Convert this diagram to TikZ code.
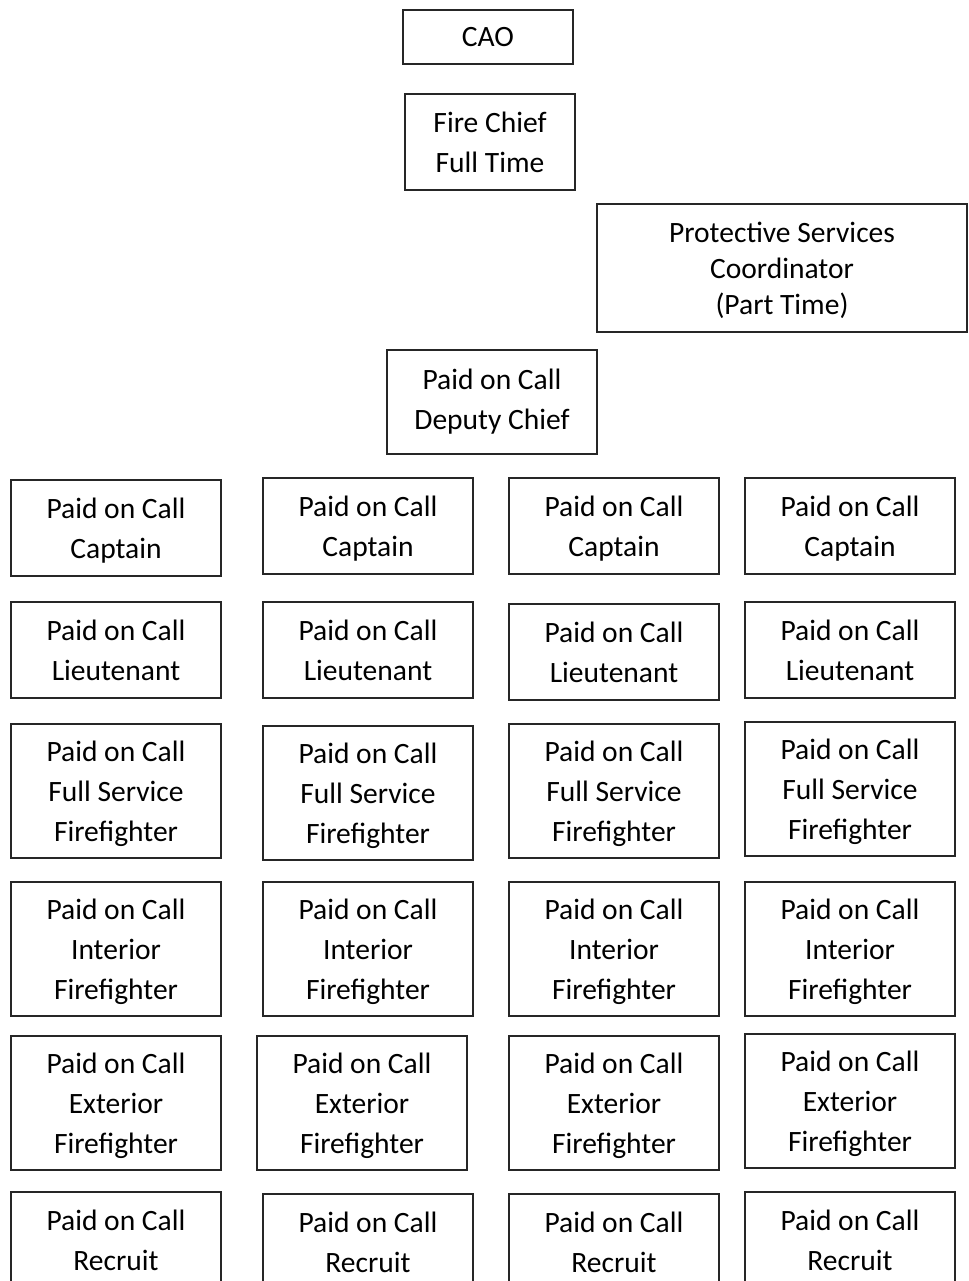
\documentclass[tikz,border=0pt]{standalone}
\usepackage{fontspec}
\setmainfont{Carlito}
\usetikzlibrary{%
  positioning% wg. " of "
}

\begin{document}
\begin{tikzpicture}[
    x=0.02cm,y=-0.02cm,
    line join=miter,
    font=\fontsize{16.8}{22.7}\selectfont,
    rolebox/.style={rectangle,draw=black!85,line width=1.1pt,inner sep=0pt,
        align=center,text depth=0pt,minimum width=4.2cm,minimum height=1.92cm},
    tallbox/.style={rolebox,minimum height=2.68cm}
  ]
    \clip (0,0) rectangle (968,1281);
    \fill[white] (0,0) rectangle (968,1281);

    \node (cao)    [rolebox,minimum width=3.4cm,minimum height=1.08cm] at (488,37) {CAO};
    \node (chief)  [rolebox,minimum width=3.4cm] at (490,142) {Fire Chief\\Full Time};
    \node (psc)    [rolebox,minimum width=7.4cm,minimum height=2.56cm,
        font=\fontsize{16.8}{20.4}\selectfont] at (782,268)
        {Protective Services\\Coordinator\\(Part Time)};
    \node (deputy) [rolebox,text depth=3pt,minimum height=2.08cm] at (492,402) {Paid on Call\\Deputy Chief};

    % captains
    \node (cap1) [rolebox] at (116,528) {Paid on Call\\Captain};
    \node (cap2) [rolebox] at (368,526) {Paid on Call\\Captain};
    \node (cap3) [rolebox] at (614,526) {Paid on Call\\Captain};
    \node (cap4) [rolebox] at (850,526) {Paid on Call\\Captain};

    % lieutenants
    \node (lt1) [rolebox] at (116,650) {Paid on Call\\Lieutenant};
    \node (lt2) [rolebox] at (368,650) {Paid on Call\\Lieutenant};
    \node (lt3) [rolebox] at (614,652) {Paid on Call\\Lieutenant};
    \node (lt4) [rolebox] at (850,650) {Paid on Call\\Lieutenant};

    % full service
    \node (fsf1) [tallbox] at (116,791) {Paid on Call\\Full Service\\Firefighter};
    \node (fsf2) [tallbox] at (368,793) {Paid on Call\\Full Service\\Firefighter};
    \node (fsf3) [tallbox] at (614,791) {Paid on Call\\Full Service\\Firefighter};
    \node (fsf4) [tallbox] at (850,789) {Paid on Call\\Full Service\\Firefighter};

    % interior
    \node (iff1) [tallbox] at (116,949) {Paid on Call\\Interior\\Firefighter};
    \node (iff2) [tallbox] at (368,949) {Paid on Call\\Interior\\Firefighter};
    \node (iff3) [tallbox] at (614,949) {Paid on Call\\Interior\\Firefighter};
    \node (iff4) [tallbox] at (850,949) {Paid on Call\\Interior\\Firefighter};

    % exterior
    \node (eff1) [tallbox] at (116,1103) {Paid on Call\\Exterior\\Firefighter};
    \node (eff2) [tallbox] at (362,1103) {Paid on Call\\Exterior\\Firefighter};
    \node (eff3) [tallbox] at (614,1103) {Paid on Call\\Exterior\\Firefighter};
    \node (eff4) [tallbox] at (850,1101) {Paid on Call\\Exterior\\Firefighter};

    % recruits
    \node (rec1) [rolebox] at (116,1240) {Paid on Call\\Recruit};
    \node (rec2) [rolebox] at (368,1242) {Paid on Call\\Recruit};
    \node (rec3) [rolebox] at (614,1242) {Paid on Call\\Recruit};
    \node (rec4) [rolebox] at (850,1240) {Paid on Call\\Recruit};
\end{tikzpicture}
\end{document}
